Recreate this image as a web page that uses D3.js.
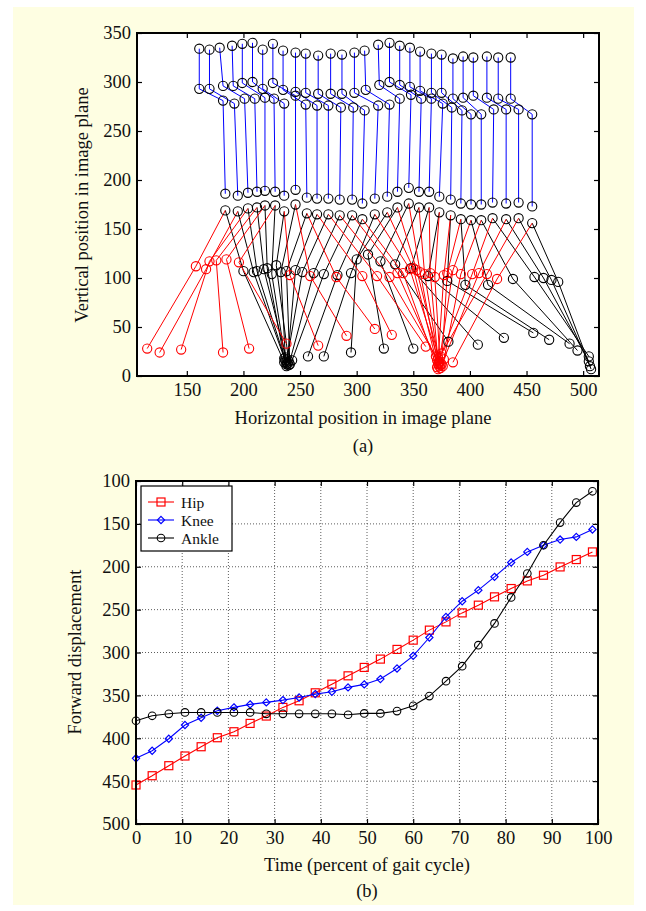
<!DOCTYPE html>
<html lang="en">
<head>
  <meta charset="UTF-8">
  <title>Gait: stick figures and forward displacement</title>
  <script src="https://d3js.org/d3.v7.min.js"></script>
  <style>
    body { margin: 0; background: #fff; }
    svg text { font-family: "Liberation Serif", "Times New Roman", serif; fill: #111; }
    .tick text { font-size: 18.5px; }
    .axis-title { font-size: 18.5px; }
    .grid line { stroke: #333; stroke-dasharray: 1,2; stroke-width: 0.8; }
  </style>
</head>
<body>
<div id="body"></div>
<script>
// ---------- (a) stick figures, one entry per frame ----------
const neckX = [161, 170, 179, 190, 199, 208, 217, 226, 235, 246, 255, 266, 277, 287, 298, 307, 319, 329, 338, 347, 356, 366, 375, 385, 394, 403, 415, 425, 436];
const neckY = [334, 333, 335, 337, 339, 340, 333, 339, 332, 330, 329, 327, 329, 328, 330, 332, 338, 340, 337, 335, 331, 329, 328, 324, 326, 325, 326, 325, 325];
const hipX = [161, 170, 182, 191, 199, 208, 217, 226, 235, 246, 255, 266, 277, 287, 298, 308, 320, 329, 338, 347, 356, 366, 375, 385, 394, 403, 415, 425, 436];
const hipY = [293, 293, 296, 296, 299, 300, 293, 299, 292, 290, 289, 288, 288, 288, 289, 292, 297, 300, 297, 295, 291, 289, 289, 283, 284, 286, 284, 283, 283];
const pelvisX = [182, 192, 201, 210, 219, 227, 236, 246, 255, 265, 275, 286, 297, 307, 319, 329, 338, 348, 357, 366, 376, 384, 393, 401, 410, 421, 432, 443, 455];
const pelvisY = [281, 278, 283, 283, 284, 283, 278, 286, 277, 276, 276, 274, 274, 271, 276, 277, 283, 287, 283, 283, 278, 274, 271, 267, 267, 272, 272, 272, 267];
const kneeX = [184, 195, 204, 212, 219, 228, 236, 246, 256, 265, 275, 285, 296, 305, 316, 327, 336, 346, 355, 364, 373, 383, 392, 401, 410, 420, 432, 443, 455];
const kneeUpY = [186, 184, 187, 188, 189, 188, 184, 190, 182, 181, 181, 180, 180, 176, 181, 183, 188, 192, 188, 188, 183, 180, 176, 175, 175, 177, 176, 177, 173];
const kneeLowY = [169, 168, 171, 172, 174, 174, 168, 175, 166, 165, 165, 164, 164, 160, 165, 167, 172, 176, 172, 172, 167, 164, 160, 159, 159, 161, 160, 161, 156];

const redAnkleX = [158, 167, 170, 176, 185, 196, 241, 259, 282, 305, 318, 329, 336, 341, 347, 350, 353, 356, 360, 365, 369, 377, 380, 385, 392, 402, 408, 415, 424];
const redAnkleY = [112, 109, 117, 118, 119, 116, 103, 102, 101, 102, 102, 101, 105, 105, 109, 110, 108, 106, 104, 105, 101, 103, 105, 108, 104, 104, 105, 104, 99];
const redFootX = [115, 126, 145, 182, 205, 238, 266, 291, 316, 331, 361, 370, 372, 371, 373, 372, 374, 371, 373, 372, 374, 372, 375, 373, 376, 374, 377, 375, 385];
const redFootY = [28, 24, 27, 24, 28, 33, 31, 41, 48, 42, 30, 20, 12, 9, 14, 7, 11, 16, 10, 13, 8, 18, 12, 15, 10, 20, 17, 23, 14];

const blackAnkleX = [200, 209, 212, 218, 221, 225, 229, 233, 238, 246, 252, 262, 271, 283, 295, 300, 310, 321, 334, 348, 363, 380, 396, 416, 438, 457, 465, 472, 478];
const blackAnkleY = [107, 106, 107, 109, 110, 104, 113, 106, 107, 108, 106, 105, 104, 103, 105, 119, 124, 117, 114, 110, 102, 97, 93, 93, 99, 101, 100, 98, 96];
const blackFootX = [236, 238, 237, 239, 236, 238, 240, 237, 241, 239, 238, 240, 243, 257, 271, 295, 324, 350, 381, 407, 430, 456, 470, 488, 495, 505, 505, 506, 507];
const blackFootY = [14, 12, 16, 13, 18, 10, 15, 19, 12, 17, 14, 11, 16, 20, 20, 24, 28, 28, 35, 32, 39, 44, 37, 33, 26, 20, 15, 10, 7];

const xTicksA = [150, 200, 250, 300, 350, 400, 450, 500];
const yTicksA = [0, 50, 100, 150, 200, 250, 300, 350];

// ---------- (b) forward displacement ----------
const time = [0, 3.5, 7.1, 10.6, 14.1, 17.6, 21.2, 24.7, 28.2, 31.8, 35.3, 38.8, 42.4, 45.9, 49.4, 52.9, 56.5, 60, 63.5, 67.1, 70.6, 74.1, 77.6, 81.2, 84.7, 88.2, 91.8, 95.3, 98.8];
const hip = [454.5, 443.7, 432, 420.7, 409.9, 399.4, 392.4, 382.7, 374.1, 364, 356.3, 347, 336.9, 327.2, 317.4, 307.7, 296.4, 285.6, 273.9, 264.3, 253.8, 244.8, 235.1, 225.4, 216.5, 209.9, 200.2, 191.6, 182.7];
const knee = [423.4, 414.6, 400.6, 384.6, 376.1, 368, 364, 360.5, 358.2, 355.5, 352.4, 348.5, 345.8, 340.7, 337.2, 331, 318.6, 303.9, 282.5, 258.5, 240.2, 227.3, 211.8, 195.1, 182.7, 174.9, 168.3, 165.2, 156.6];
const ankle = [379.6, 373.8, 371.5, 369.9, 369.9, 369.9, 369.9, 369.9, 371.5, 371.5, 371.5, 371.5, 371.5, 372.6, 371, 371, 368.3, 362.2, 350.8, 333.4, 315.9, 291.4, 266.1, 235.8, 207.9, 174.9, 148.5, 125.2, 112];
const seriesNames = ["Hip", "Knee", "Ankle"];
const xTicksB = [0, 10, 20, 30, 40, 50, 60, 70, 80, 90, 100];
const yTicksB = [100, 150, 200, 250, 300, 350, 400, 450, 500];

const W = 646, H = 911;
const svg = d3.select("#body").append("svg")
  .attr("width", W).attr("height", H);

// pale yellow panel
svg.append("rect").attr("x", 13).attr("y", 7).attr("width", 621).attr("height", 898)
  .attr("fill", "#fefee2");

// axis box with inward ticks on all four sides (matlab look)
function boxAxes(g, x, y, xt, yt) {
  const [x0, x1] = x.range(), [y0, y1] = y.range();
  g.append("rect").attr("x", x0).attr("y", Math.min(y0, y1))
    .attr("width", x1 - x0).attr("height", Math.abs(y0 - y1))
    .attr("fill", "#fff");
  const bottom = Math.max(y0, y1), top = Math.min(y0, y1);
  g.append("g").attr("transform", `translate(0,${bottom})`)
    .call(d3.axisBottom(x).tickValues(xt).tickSizeInner(-5).tickSizeOuter(0).tickPadding(7));
  g.append("g").attr("transform", `translate(0,${top})`)
    .call(d3.axisTop(x).tickValues(xt).tickSizeInner(-5).tickSizeOuter(0).tickFormat(""));
  g.append("g").attr("transform", `translate(${x0},0)`)
    .call(d3.axisLeft(y).tickValues(yt).tickSizeInner(-5).tickSizeOuter(0).tickPadding(6));
  g.append("g").attr("transform", `translate(${x1},0)`)
    .call(d3.axisRight(y).tickValues(yt).tickSizeInner(-5).tickSizeOuter(0).tickFormat(""));
  g.selectAll(".domain").remove();
  g.selectAll(".tick line").attr("stroke", "#000").attr("stroke-width", 1.2);
}

function frameBox(g, x, y) {
  const [x0, x1] = x.range(), [y0, y1] = y.range();
  g.append("rect").attr("x", x0).attr("y", Math.min(y0, y1))
    .attr("width", x1 - x0).attr("height", Math.abs(y0 - y1))
    .attr("fill", "none").attr("stroke", "#000").attr("stroke-width", 2);
}

// ===== panel (a) =====
const xA = d3.scaleLinear().domain([106, 514]).range([137, 599]);
const yA = d3.scaleLinear().domain([0, 350]).range([376, 33]);
const gA = svg.append("g");
boxAxes(gA, xA, yA, xTicksA, yTicksA);

const frames = neckX.map((_, i) => ({
  body: [[neckX[i], neckY[i]], [hipX[i], hipY[i]], [pelvisX[i], pelvisY[i]], [kneeX[i], kneeUpY[i]]],
  top: [kneeX[i], kneeLowY[i]],
  red: [[kneeX[i], kneeLowY[i]], [redAnkleX[i], redAnkleY[i]], [redFootX[i], redFootY[i]]],
  black: [[kneeX[i], kneeLowY[i]], [blackAnkleX[i], blackAnkleY[i]], [blackFootX[i], blackFootY[i]]]
}));

const lineA = d3.line().x(d => xA(d[0])).y(d => yA(d[1]));
const plotA = gA.append("g");

plotA.selectAll(".leg-black").data(frames).join("path")
  .attr("d", d => lineA(d.black)).attr("fill", "none").attr("stroke", "#000").attr("stroke-width", 1);
plotA.selectAll(".leg-red").data(frames).join("path")
  .attr("d", d => lineA(d.red)).attr("fill", "none").attr("stroke", "#ff0000").attr("stroke-width", 1);
plotA.selectAll(".trunk").data(frames).join("path")
  .attr("d", d => lineA(d.body)).attr("fill", "none").attr("stroke", "#0000ff").attr("stroke-width", 1);

function rings(pts, color) {
  plotA.append("g").selectAll("circle").data(pts).join("circle")
    .attr("cx", d => xA(d[0])).attr("cy", d => yA(d[1])).attr("r", 4.6)
    .attr("fill", "none").attr("stroke", color).attr("stroke-width", 1.1);
}
rings(frames.flatMap(f => f.black.slice(1)), "#000");
rings(frames.flatMap(f => f.red.slice(1)), "#ff0000");
rings(frames.flatMap(f => f.body.concat([f.top])), "#000");

frameBox(gA, xA, yA);

gA.append("text").attr("class", "axis-title").attr("x", 363).attr("y", 424)
  .attr("text-anchor", "middle").text("Horizontal position in image plane");
gA.append("text").attr("class", "axis-title")
  .attr("transform", "translate(88,205) rotate(-90)")
  .attr("text-anchor", "middle").text("Vertical position in image plane");
gA.append("text").attr("class", "axis-title").attr("x", 363).attr("y", 452)
  .attr("text-anchor", "middle").text("(a)");

// ===== panel (b) =====
const xB = d3.scaleLinear().domain([0, 100]).range([136, 598]);
const yB = d3.scaleLinear().domain([100, 500]).range([481, 824]);
const gB = svg.append("g");
boxAxes(gB, xB, yB, xTicksB, yTicksB);

// dotted grid
const grid = gB.append("g").attr("class", "grid");
grid.selectAll(".gx").data(xTicksB.slice(1, -1)).join("line")
  .attr("x1", d => xB(d)).attr("x2", d => xB(d)).attr("y1", yB(100)).attr("y2", yB(500));
grid.selectAll(".gy").data(yTicksB.slice(1, -1)).join("line")
  .attr("y1", d => yB(d)).attr("y2", d => yB(d)).attr("x1", xB(0)).attr("x2", xB(100));

const series = [
  { name: seriesNames[0], values: hip, color: "#ff0000", marker: "square" },
  { name: seriesNames[1], values: knee, color: "#0000ff", marker: "diamond" },
  { name: seriesNames[2], values: ankle, color: "#000000", marker: "circle" }
];

function drawMarker(sel, type, color) {
  if (type === "square") {
    sel.append("rect").attr("x", -4).attr("y", -4).attr("width", 8).attr("height", 8)
      .attr("fill", "none").attr("stroke", color).attr("stroke-width", 1.2);
  } else if (type === "diamond") {
    sel.append("path").attr("d", "M0,-3.6L3.6,0L0,3.6L-3.6,0Z")
      .attr("fill", "none").attr("stroke", color).attr("stroke-width", 1.2);
  } else {
    sel.append("circle").attr("r", 3.8)
      .attr("fill", "none").attr("stroke", color).attr("stroke-width", 1.1);
  }
}

const lineB = d3.line().x((d, i) => xB(time[i])).y(d => yB(d));
series.forEach(s => {
  gB.append("path").attr("d", lineB(s.values)).attr("fill", "none")
    .attr("stroke", s.color).attr("stroke-width", 1.1);
  const m = gB.append("g").selectAll("g").data(s.values).join("g")
    .attr("transform", (d, i) => `translate(${xB(time[i])},${yB(d)})`);
  drawMarker(m, s.marker, s.color);
});

frameBox(gB, xB, yB);

// legend
const lg = gB.append("g");
lg.append("rect").attr("x", 141).attr("y", 486).attr("width", 91).attr("height", 65)
  .attr("fill", "#fff").attr("stroke", "#000").attr("stroke-width", 1.2);
series.forEach((s, i) => {
  const yy = 502 + i * 18;
  lg.append("line").attr("x1", 148).attr("x2", 174).attr("y1", yy).attr("y2", yy)
    .attr("stroke", s.color).attr("stroke-width", 1.1);
  drawMarker(lg.append("g").attr("transform", `translate(161,${yy})`), s.marker, s.color);
  lg.append("text").attr("x", 181).attr("y", yy + 5.5).style("font-size", "15.5px").text(s.name);
});

gB.append("text").attr("class", "axis-title").attr("x", 367).attr("y", 871)
  .attr("text-anchor", "middle").text("Time (percent of gait cycle)");
gB.append("text").attr("class", "axis-title")
  .attr("transform", "translate(81,652) rotate(-90)")
  .attr("text-anchor", "middle").text("Forward displacement");
gB.append("text").attr("class", "axis-title").attr("x", 367).attr("y", 897)
  .attr("text-anchor", "middle").text("(b)");
</script>
</body>
</html>
